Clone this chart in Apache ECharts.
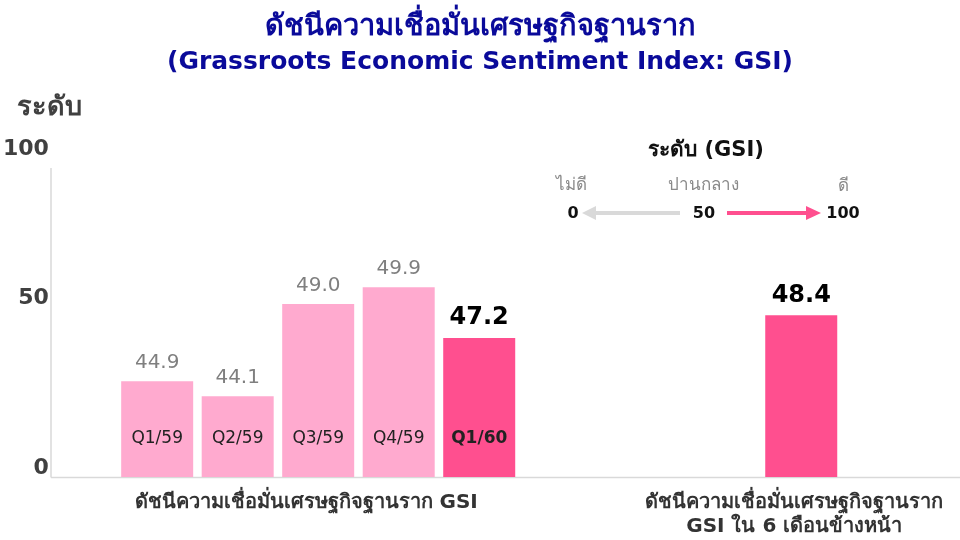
<!DOCTYPE html>
<html>
<head>
<meta charset="utf-8">
<script src="https://cdn.jsdelivr.net/npm/echarts@6/dist/echarts.min.js"></script>
<style>
  html, body { margin: 0; padding: 0; background: #fff; }
  #chart { width: 960px; height: 540px; }
</style>
</head>
<body>
<div id="chart"></div>
<script>
// ข้อมูล GSI
const categories = ['Q1/59', 'Q2/59', 'Q3/59', 'Q4/59', 'Q1/60', 'gap1', 'gap2', 'gap3', 'next6m']
const values = [44.9, 44.1, 49.0, 49.9, 47.2, '-', '-', '-', 48.4]
const isLatest = [false, false, false, false, true, false, false, false, true]
const groupLabels = {
  2: '{l|ดัชนีความเชื่อมั่นเศรษฐกิจฐานราก GSI}',
  8: '{r|ดัชนีความเชื่อมั่นเศรษฐกิจฐานราก}\n{r|GSI ใน 6 เดือนข้างหน้า}'
}
// ป้ายแกน y (ตำแหน่งตามภาพต้นฉบับ)
const yTickValues = [40.28, 49.32, 57.25]
const yTickLabels = ['0', '50', '100']

const FONT = 'Tahoma, "DejaVu Sans", "Noto Sans", sans-serif'
const LIGHT = '#ffaacf'
const STRONG = '#ff4f8f'

const chart = echarts.init(document.getElementById('chart'))

const barData = values.map((v, i) => ({
  value: v,
  itemStyle: { color: isLatest[i] ? STRONG : LIGHT },
  label: isLatest[i]
    ? { color: '#000', fontSize: 24, fontWeight: 'bold' }
    : { color: '#7f7f7f', fontSize: 20, fontWeight: 'normal' }
}))

const nameData = values.map((v, i) => ({
  value: i === 8 ? '-' : v,
  label: { fontWeight: isLatest[i] ? 'bold' : 'normal' }
}))

const groupStyle = { color: '#333', fontSize: 20, fontWeight: 'bold', fontFamily: FONT, lineHeight: 24 }

const option = {
  animation: false,
  title: {
    text: '{th|ดัชนีความเชื่อมั่นเศรษฐกิจฐานราก}\n{en|(Grassroots Economic Sentiment Index: GSI)}',
    left: 'center',
    top: 4,
    textStyle: {
      color: '#0a0a9a',
      fontFamily: FONT,
      rich: {
        th: { color: '#0a0a9a', fontSize: 29, fontWeight: 'bold', fontFamily: FONT, lineHeight: 36 },
        en: { color: '#0a0a9a', fontSize: 25, fontWeight: 'bold', fontFamily: FONT, lineHeight: 34 }
      }
    }
  },
  grid: { left: 114, right: 117, top: 149, bottom: 63 },
  xAxis: {
    type: 'category',
    data: categories,
    axisLine: { show: false },
    axisTick: { show: false },
    axisLabel: {
      interval: 0,
      margin: 14,
      formatter: (val, idx) => groupLabels[idx] || '',
      rich: {
        l: { ...groupStyle, padding: [0, 24, 0, 0] },
        r: { ...groupStyle, padding: [0, 14, 0, 0] }
      }
    }
  },
  yAxis: {
    type: 'value',
    min: 39.8,
    max: 57.25,
    offset: 63,
    name: 'ระดับ',
    nameLocation: 'end',
    nameGap: 28,
    nameTextStyle: {
      color: '#404040',
      fontSize: 27,
      fontWeight: 'bold',
      fontFamily: FONT,
      padding: [0, 8, 0, 0]
    },
    axisLine: { show: false },
    axisTick: { show: false },
    splitLine: { show: false },
    axisLabel: {
      customValues: yTickValues,
      margin: 5,
      color: '#404040',
      fontSize: 22,
      fontWeight: 'bold',
      fontFamily: FONT,
      formatter: (val) => {
        const i = yTickValues.indexOf(val)
        return i >= 0 ? yTickLabels[i] : ''
      }
    }
  },
  series: [
    {
      type: 'bar',
      data: barData,
      barWidth: 72,
      label: {
        show: true,
        position: 'top',
        distance: 8,
        fontFamily: FONT,
        formatter: (p) => p.value.toFixed(1)
      }
    },
    {
      type: 'bar',
      data: nameData,
      barWidth: 72,
      barGap: '-100%',
      itemStyle: { color: 'rgba(0,0,0,0)' },
      silent: true,
      label: {
        show: true,
        position: 'insideBottom',
        distance: 30,
        color: '#222',
        fontSize: 17,
        fontFamily: FONT,
        formatter: (p) => p.name
      }
    }
  ],
  graphic: [
    // เส้นแกน
    { type: 'line', shape: { x1: 51, y1: 168, x2: 51, y2: 477.5 }, style: { stroke: '#d9d9d9', lineWidth: 1.5 } },
    { type: 'line', shape: { x1: 51, y1: 477.5, x2: 960, y2: 477.5 }, style: { stroke: '#d9d9d9', lineWidth: 1.5 } },
    // คำอธิบายระดับ
    { type: 'text', x: 706, y: 151, style: { text: 'ระดับ (GSI)', fill: '#111', font: 'bold 21px ' + FONT, textAlign: 'center', textVerticalAlign: 'middle' } },
    { type: 'text', x: 571, y: 186, style: { text: 'ไม่ดี', fill: '#8a8a8a', font: '17px ' + FONT, textAlign: 'center', textVerticalAlign: 'middle' } },
    { type: 'text', x: 703, y: 186, style: { text: 'ปานกลาง', fill: '#8a8a8a', font: '17px ' + FONT, textAlign: 'center', textVerticalAlign: 'middle' } },
    { type: 'text', x: 843, y: 187, style: { text: 'ดี', fill: '#8a8a8a', font: '17px ' + FONT, textAlign: 'center', textVerticalAlign: 'middle' } },
    { type: 'text', x: 573, y: 214, style: { text: '0', fill: '#111', font: 'bold 16px ' + FONT, textAlign: 'center', textVerticalAlign: 'middle' } },
    { type: 'text', x: 704, y: 214, style: { text: '50', fill: '#111', font: 'bold 16px ' + FONT, textAlign: 'center', textVerticalAlign: 'middle' } },
    { type: 'text', x: 843, y: 214, style: { text: '100', fill: '#111', font: 'bold 16px ' + FONT, textAlign: 'center', textVerticalAlign: 'middle' } },
    { type: 'line', shape: { x1: 680, y1: 213, x2: 594, y2: 213 }, style: { stroke: '#d9d9d9', lineWidth: 4 } },
    { type: 'polygon', shape: { points: [[582, 213], [596, 206], [596, 220]] }, style: { fill: '#d9d9d9' } },
    { type: 'line', shape: { x1: 727, y1: 213, x2: 808, y2: 213 }, style: { stroke: STRONG, lineWidth: 4 } },
    { type: 'polygon', shape: { points: [[821, 213], [806, 206], [806, 220]] }, style: { fill: STRONG } }
  ]
}

chart.setOption(option)
</script>
</body>
</html>
